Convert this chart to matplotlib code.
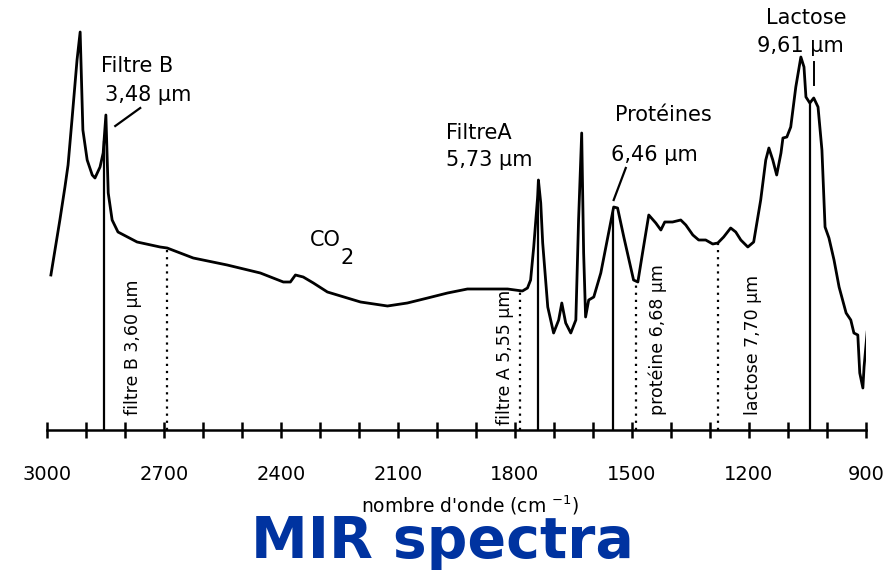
import matplotlib
matplotlib.use("Agg")
import matplotlib.pyplot as plt
import numpy as np

# spectrum (wavenumber cm-1, absorbance a.u.)
wavenumber = [2990, 2967, 2954, 2946, 2936, 2923, 2915, 2908, 2897, 2884, 2877, 2864,
              2856, 2849, 2843, 2833, 2818, 2769, 2710, 2692, 2625, 2538, 2453, 2394,
              2376, 2363, 2343, 2317, 2281, 2230, 2196, 2127, 2076, 2024, 1973, 1922,
              1870, 1819, 1781, 1768, 1760, 1752, 1742, 1740, 1734, 1729, 1716, 1701,
              1688, 1680, 1670, 1657, 1644, 1637, 1629, 1624, 1619, 1611, 1598, 1580,
              1562, 1547, 1537, 1521, 1496, 1485, 1473, 1457, 1439, 1426, 1416, 1396,
              1375, 1362, 1344, 1329, 1311, 1293, 1280, 1265, 1247, 1234, 1221, 1203,
              1188, 1170, 1157, 1149, 1139, 1129, 1118, 1113, 1103, 1093, 1080, 1067,
              1059, 1054, 1044, 1034, 1023, 1013, 1005, 995, 982, 969, 951, 939,
              931, 921, 916, 908, 905, 897]
absorbance = [1.55, 2.10, 2.43, 2.65, 3.10, 3.70, 3.98, 3.00, 2.70, 2.55, 2.52, 2.63,
              2.77, 3.15, 2.37, 2.10, 1.98, 1.88, 1.83, 1.82, 1.72, 1.65, 1.57, 1.48,
              1.48, 1.55, 1.53, 1.47, 1.38, 1.32, 1.28, 1.24, 1.27, 1.32, 1.37, 1.41,
              1.41, 1.41, 1.39, 1.42, 1.50, 1.83, 2.33, 2.50, 2.27, 1.87, 1.23, 0.97,
              1.10, 1.27, 1.07, 0.97, 1.10, 2.10, 2.97, 1.77, 1.13, 1.30, 1.33, 1.57,
              1.93, 2.23, 2.22, 1.93, 1.50, 1.48, 1.77, 2.15, 2.07, 2.00, 2.08, 2.08,
              2.10, 2.05, 1.95, 1.90, 1.90, 1.86, 1.87, 1.93, 2.02, 1.98, 1.90, 1.83,
              1.88, 2.30, 2.70, 2.82, 2.70, 2.55, 2.77, 2.92, 2.93, 3.03, 3.43, 3.73,
              3.63, 3.33, 3.27, 3.32, 3.23, 2.80, 2.03, 1.92, 1.70, 1.43, 1.17, 1.10,
              0.97, 0.95, 0.57, 0.42, 0.63, 0.98]

solid_marks = [2854, 1742, 1550, 1044]
dotted_marks = [2692, 1788, 1490, 1280]
dotted_labels = ["filtre B 3,60 \u00b5m", "filtre A 5,55 \u00b5m",
                 "prot\u00e9ine 6,68 \u00b5m", "lactose 7,70 \u00b5m"]
dotted_label_pos = [2779, 1826, 1434, 1190]
dotted_label_y = [0.83, 0.73, 0.90, 0.85]

major_ticks = [3000, 2700, 2400, 2100, 1800, 1500, 1200, 900]
minor_ticks = list(range(2900, 900, -100))

plt.rcParams['font.family'] = ['DejaVu Sans']

fig = plt.figure(figsize=(8.83, 5.74), dpi=100)
ax = fig.add_axes([47/883, 144/574, 819/883, 430/574])

wn = np.array(wavenumber)
ab = np.array(absorbance)
ax.plot(wn, ab, color="black", lw=2.0, solid_joinstyle="round")

for w in solid_marks:
    top = np.interp(w, wn[::-1], ab[::-1])
    ax.plot([w, w], [0, top], color="black", lw=1.6)
for w in dotted_marks:
    top = np.interp(w, wn[::-1], ab[::-1])
    ax.plot([w, w], [0, top], color="black", lw=1.6, linestyle=(0, (1, 2.2)))

for lab, x, y in zip(dotted_labels, dotted_label_pos, dotted_label_y):
    ax.text(x, y, lab, rotation=90, ha="center", va="center", fontsize=12.5)

fs = 15
ax.text(2769, 3.64, "Filtre B", ha="center", va="center", fontsize=fs)
ax.text(2741, 3.35, "3,48 \u00b5m", ha="center", va="center", fontsize=fs)
ax.plot([2825, 2761], [3.04, 3.22], color="black", lw=1.6)
ax.text(2286, 1.90, "CO", ha="center", va="center", fontsize=fs)
ax.text(2230, 1.72, "2", ha="center", va="center", fontsize=fs)
ax.text(1978, 2.97, "FiltreA", ha="left", va="center", fontsize=fs)
ax.text(1978, 2.70, "5,73 \u00b5m", ha="left", va="center", fontsize=fs)
ax.text(1544, 3.15, "Prot\u00e9ines", ha="left", va="center", fontsize=fs)
ax.text(1554, 2.75, "6,46 \u00b5m", ha="left", va="center", fontsize=fs)
ax.plot([1547, 1516], [2.30, 2.62], color="black", lw=1.6)
ax.text(1054, 4.12, "Lactose", ha="center", va="center", fontsize=fs)
ax.text(1069, 3.84, "9,61 \u00b5m", ha="center", va="center", fontsize=fs)
ax.plot([1034, 1034], [3.68, 3.45], color="black", lw=1.4)

ax.set_xlim(3000, 900)
ax.set_ylim(0, 4.3)
for s in ["top", "left", "right"]:
    ax.spines[s].set_visible(False)
ax.spines["bottom"].set_linewidth(1.8)
ax.set_yticks([])
ax.set_xticks(major_ticks)
ax.set_xticks(minor_ticks, minor=True)
ax.tick_params(axis="x", which="both", direction="inout", length=11, width=1.8,
               labelsize=14, pad=20)
ax.patch.set_visible(False)

fig.text(470/883, 1 - 505/574, "nombre d'onde (cm $^{-1}$)", ha="center", va="center", fontsize=13.5)
fig.text(442/883, 1 - 542/574, "MIR spectra", ha="center", va="center", fontsize=41,
         fontweight="bold", color="#0033a0")

fig.savefig("out.png", dpi=100)
